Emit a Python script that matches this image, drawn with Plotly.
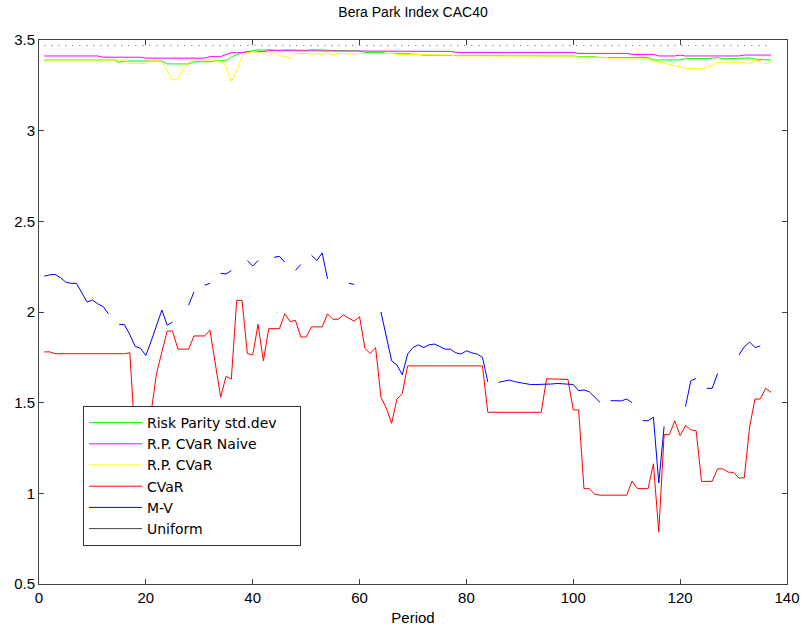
import plotly.graph_objects as go

# Sharpe-like index per rebalancing period for each allocation strategy
periods = list(range(1, 138))

risk_parity_std = [
    3.39, 3.39, 3.39, 3.39, 3.39, 3.39, 3.39, 3.39, 3.39, 3.39, 3.39, 3.39, 3.39, 3.39,
    3.377,
    3.384, 3.384, 3.384, 3.384, 3.384, 3.384, 3.384, 3.384,
    3.368, 3.368, 3.368, 3.368, 3.368,
    3.38, 3.38, 3.38, 3.38,
    3.386, 3.386, 3.386,
    3.405, 3.42, 3.43, 3.436,
    3.443, 3.446, 3.444, 3.447, 3.445, 3.443, 3.446, 3.445, 3.447,
    3.446, 3.443, 3.447, 3.445, 3.446, 3.442,
    3.441, 3.441, 3.441, 3.441, 3.441, 3.441,
    3.432, 3.432, 3.432, 3.432,
    3.426, 3.426, 3.426, 3.426, 3.426,
    3.421, 3.421,
    3.416, 3.416, 3.416, 3.416, 3.416, 3.416, 3.416, 3.416, 3.416, 3.416, 3.416, 3.416, 3.416, 3.416, 3.416,
    3.412, 3.412, 3.412, 3.412, 3.412, 3.412, 3.412, 3.412, 3.412, 3.412, 3.412, 3.412, 3.412, 3.412,
    3.408, 3.408, 3.408, 3.408,
    3.403, 3.403, 3.403, 3.403, 3.403, 3.403, 3.403, 3.403, 3.403, 3.403,
    3.39, 3.39, 3.39, 3.39, 3.39, 3.39,
    3.397, 3.397,
    3.399, 3.399, 3.399, 3.399,
    3.403,
    3.397, 3.397, 3.397,
    3.401, 3.401, 3.401,
    3.394, 3.394, 3.394,
    3.39,
]

rp_cvar_naive = [
    3.412, 3.412, 3.412, 3.412, 3.412, 3.412, 3.412, 3.412, 3.412, 3.412, 3.412,
    3.405, 3.405, 3.405, 3.405, 3.405, 3.405, 3.405, 3.405,
    3.40, 3.40, 3.40, 3.40, 3.40, 3.40, 3.40, 3.40, 3.40, 3.40, 3.40, 3.40,
    3.408, 3.408, 3.408,
    3.42,
    3.43, 3.43, 3.43,
    3.436, 3.436, 3.436, 3.436,
    3.441, 3.441, 3.441, 3.441, 3.441, 3.441, 3.441, 3.441, 3.441, 3.441, 3.441, 3.441, 3.441, 3.441, 3.441, 3.441, 3.441,
    3.437, 3.437, 3.437, 3.437, 3.437, 3.437, 3.437, 3.437, 3.437, 3.437, 3.437, 3.437, 3.437, 3.437, 3.437, 3.437, 3.437, 3.437,
    3.432, 3.432, 3.432, 3.432, 3.432, 3.432, 3.432, 3.432, 3.432, 3.432, 3.432, 3.432, 3.432, 3.432, 3.432, 3.432, 3.432, 3.432, 3.432, 3.432, 3.432, 3.432, 3.432,
    3.426, 3.426, 3.426, 3.426, 3.426, 3.426, 3.426, 3.426, 3.426, 3.426,
    3.421, 3.421, 3.421, 3.421, 3.421,
    3.412, 3.412, 3.412, 3.412,
    3.417,
    3.412, 3.412, 3.412, 3.412, 3.412, 3.412, 3.412, 3.412, 3.412, 3.412, 3.412,
    3.417, 3.417, 3.417, 3.417, 3.417, 3.417,
]

rp_cvar = [
    3.38,
    3.39, 3.39, 3.39, 3.39, 3.39, 3.39, 3.39, 3.39, 3.39, 3.39, 3.39, 3.39, 3.39, 3.39, 3.39,
    3.371, 3.371, 3.371, 3.371,
    3.386, 3.386,
    3.38, 3.33, 3.279, 3.285, 3.34, 3.38,
    3.39, 3.39, 3.39, 3.39, 3.39, 3.39,
    3.353, 3.27, 3.33, 3.41, 3.43,
    3.436, 3.434, 3.423, 3.434, 3.432, 3.412, 3.41, 3.397,
    3.426, 3.424, 3.426, 3.422, 3.425, 3.421,
    3.43, 3.417, 3.424, 3.426, 3.422, 3.424,
    3.426, 3.426, 3.426, 3.426, 3.426, 3.426, 3.426,
    3.421, 3.421, 3.421, 3.421, 3.421, 3.421,
    3.417, 3.417, 3.417, 3.417, 3.417,
    3.412, 3.412, 3.412, 3.412, 3.412, 3.412, 3.412, 3.412, 3.412, 3.412, 3.412, 3.412, 3.412, 3.412, 3.412, 3.412, 3.412, 3.412, 3.412, 3.412, 3.412, 3.412, 3.412,
    3.405, 3.405, 3.405, 3.405, 3.405, 3.405,
    3.395, 3.395, 3.395, 3.395, 3.395, 3.395, 3.395, 3.395,
    3.385, 3.379, 3.372, 3.365, 3.36, 3.352,
    3.344, 3.344, 3.344, 3.344,
    3.35, 3.36,
    3.377, 3.377, 3.377, 3.377, 3.377, 3.377,
    3.366, 3.39, 3.386, 3.366, 3.38,
]

cvar = [
    1.78, 1.78,
    1.77, 1.77, 1.77, 1.77, 1.77, 1.77, 1.77, 1.77, 1.77, 1.77, 1.77, 1.77, 1.77, 1.77,
    1.775, 1.3, 1.25, 1.25, 1.45, 1.66, 1.78, 1.895, 1.895,
    1.795, 1.795, 1.795, 1.868, 1.868, 1.868, 1.90, 1.71, 1.53, 1.645, 1.63,
    2.064, 2.064, 1.771, 1.763, 1.932, 1.731, 1.908, 1.908, 1.908,
    1.99, 1.947, 1.954, 1.862, 1.862, 1.918, 1.918, 1.918, 1.99, 1.96, 1.96,
    1.984, 1.965, 1.95, 1.974, 1.80, 1.771, 1.804, 1.53, 1.47, 1.386, 1.52, 1.551,
    1.703, 1.703, 1.703, 1.703, 1.703, 1.703, 1.703, 1.703, 1.703, 1.703, 1.703, 1.703, 1.703, 1.703, 1.703,
    1.447, 1.447, 1.447, 1.447, 1.447, 1.447, 1.447, 1.447, 1.447, 1.447, 1.447,
    1.632, 1.632, 1.632, 1.632, 1.628,
    1.46, 1.46, 1.026, 1.026, 0.995,
    0.99, 0.99, 0.99, 0.99, 0.99, 0.99,
    1.068, 1.026, 1.026, 1.026, 1.163, 0.787, 1.324, 1.324, 1.40, 1.318, 1.374, 1.35, 1.345,
    1.066, 1.066, 1.066, 1.135, 1.135, 1.117, 1.115, 1.085, 1.085,
    1.365, 1.52, 1.52, 1.579, 1.557,
]

# None marks periods where the mean-variance optimisation gave no value
mean_variance = [
    2.198, 2.205, 2.207, 2.19, 2.165, 2.158, 2.158, 2.11, 2.055, 2.066,
    2.045, 2.03, 1.99, None, 1.932, 1.93, 1.875, 1.81, 1.80, 1.76,
    1.84, 1.93, 2.011, 1.927, 1.945, None, None, 2.038, 2.11, None,
    2.148, 2.158, None, 2.213, 2.21, 2.228, None, None, 2.284, 2.253,
    2.284, None, None, 2.302, 2.307, 2.275, None, 2.229, 2.262, None,
    2.313, 2.284, 2.326, 2.183, None, None, None, 2.158, 2.152, None,
    None, 2.125, None, 2.0, 1.87, 1.731, 1.707, 1.654, 1.768, 1.804,
    1.819, 1.804, 1.819, 1.823, 1.81, 1.795, 1.795, 1.775, 1.768, 1.786,
    1.775, 1.768, 1.75, 1.615, None, 1.612, 1.618, 1.625, 1.616, 1.61,
    1.606, 1.60, 1.60, 1.60, 1.60, 1.603, 1.606, 1.603, 1.60, 1.60,
    1.566, 1.57, 1.56, 1.53, 1.502, None, 1.511, 1.511, 1.51, 1.52,
    1.50, None, 1.401, 1.40, 1.42, 1.057, 1.37, None, 1.423, None,
    1.478, 1.621, 1.634, None, 1.579, 1.579, 1.661, None, None, None,
    1.763, 1.808, 1.835, 1.804, 1.813, None, None,
]

uniform = [3.47] * len(periods)

x_ticks = [0, 20, 40, 60, 80, 100, 120, 140]
y_ticks = [0.5, 1, 1.5, 2, 2.5, 3, 3.5]
y_tick_text = ["0.5", "1", "1.5", "2", "2.5", "3", "3.5"]

series = [
    ("Risk Parity std.dev", risk_parity_std, "#00ff00"),
    ("R.P. CVaR Naive", rp_cvar_naive, "#ff00ff"),
    ("R.P. CVaR", rp_cvar, "#ffff00"),
    ("CVaR", cvar, "#ff0000"),
    ("M-V", mean_variance, "#0000ff"),
]

FONT = "Liberation Sans, Arial, sans-serif"
LEGEND_FONT = "DejaVu Sans, sans-serif"
# a little trailing room after the widest entry so the legend box breathes
PAD = "\u00a0\u00a0\u00a0\u00a0"

fig = go.Figure()
for name, values, color in series:
    fig.add_trace(go.Scatter(
        x=periods, y=values, name=name + (PAD if name == series[0][0] else ""),
        mode="lines", line=dict(color=color, width=1), connectgaps=False,
    ))

# uniform portfolio: dotted line on the plot, solid sample in the legend
fig.add_trace(go.Scatter(
    x=periods, y=uniform, name="Uniform", mode="lines", showlegend=False,
    line=dict(color="#555555", width=1, dash="1px,6px"),
))
fig.add_trace(go.Scatter(
    x=periods, y=[None] * len(periods), name="Uniform", mode="lines",
    line=dict(color="#444444", width=1),
))

axis_common = dict(
    showline=True, linecolor="#444444", linewidth=1, mirror="ticks",
    ticks="inside", ticklen=5, tickcolor="#444444", tickwidth=1,
    showgrid=False, zeroline=False,
    tickfont=dict(family=FONT, size=15, color="#000000"),
)

fig.update_layout(
    width=803, height=626,
    margin=dict(l=39, r=16, t=40, b=42),
    paper_bgcolor="white", plot_bgcolor="white",
    title=dict(
        text="Bera Park Index CAC40", x=0.5, xref="paper",
        y=1 - 12 / 626, yref="container", yanchor="middle", xanchor="center",
        font=dict(family=FONT, size=14, color="#000000"),
    ),
    xaxis=dict(
        range=[0, 140], tickvals=x_ticks,
        title=dict(text="Period", standoff=8,
                   font=dict(family=FONT, size=15, color="#000000")),
        automargin=False, **axis_common,
    ),
    yaxis=dict(
        range=[0.5, 3.5], tickvals=y_ticks, ticktext=y_tick_text,
        automargin=False, **axis_common,
    ),
    legend=dict(
        x=(83 - 39) / 748, y=(584 - 406) / 544, xanchor="left", yanchor="top",
        bgcolor="white", bordercolor="#333333", borderwidth=1,
        font=dict(family=LEGEND_FONT, size=14, color="#000000"),
        itemwidth=53, tracegroupgap=0,
    ),
    showlegend=True,
)

fig.write_html("out.html")
